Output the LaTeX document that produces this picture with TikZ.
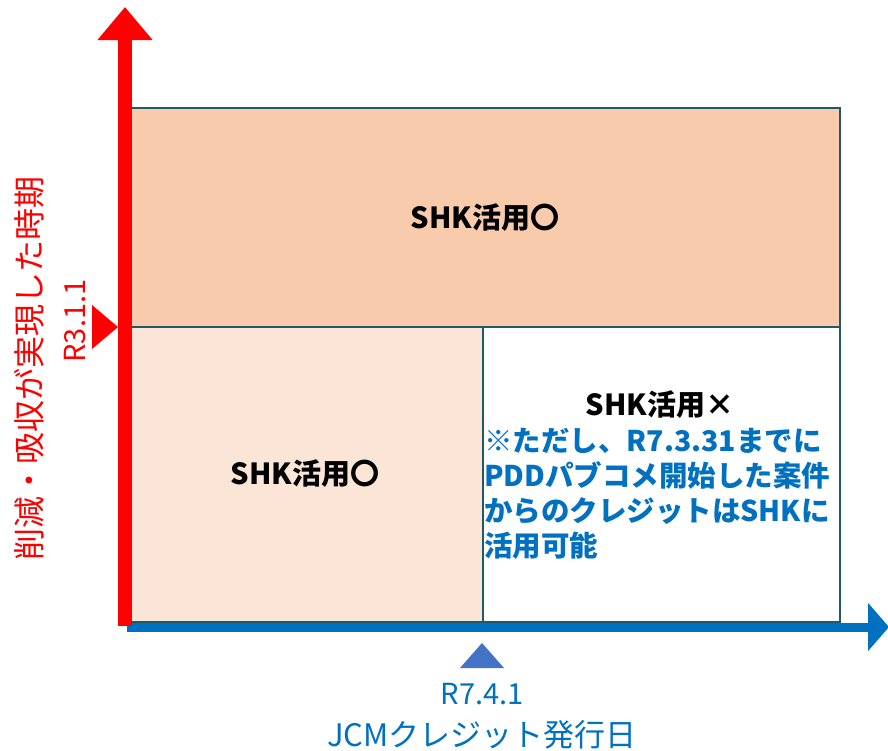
\documentclass[tikz,border=0pt]{standalone}
\usepackage{fontspec}
\setmainfont{Noto Sans CJK JP}
\usetikzlibrary{arrows.meta}
\definecolor{axred}{HTML}{FF0000}
\definecolor{axblue}{HTML}{0070C0}
\definecolor{triblue}{HTML}{4472C4}
\definecolor{edge}{HTML}{215967}
\definecolor{topfill}{HTML}{F8CBAD}
\definecolor{blfill}{HTML}{FBE5D6}
\begin{document}
\begin{tikzpicture}[x=1pt,y=-1pt,
  region/.style={draw=edge, line width=2pt, inner sep=0pt, outer sep=0pt},
  headtxt/.style={font=\fontsize{29}{35}\selectfont\bfseries, text=black, inner sep=0pt},
  notetxt/.style={font=\fontsize{28.5}{35}\selectfont\bfseries, text=axblue, align=left, inner sep=0pt},
  axlabblue/.style={font=\fontsize{29}{35}\selectfont, text=axblue, inner sep=0pt},
  axlabred/.style={font=\fontsize{30}{35}\selectfont, text=axred, inner sep=0pt, rotate=90}
]
\useasboundingbox (0,0) rectangle (888,750);
% regions
\node[region, fill=topfill, minimum width=710pt, minimum height=219pt] (top) at (485,217.5) {};
\node[region, fill=blfill, minimum width=353pt, minimum height=295pt] (bl) at (306.5,474.5) {};
\node[region, fill=white, minimum width=357pt, minimum height=295pt] (br) at (661.5,474.5) {};
\node[headtxt] (toptxt) at (485,218) {SHK活用〇};
\node[headtxt] (bltxt) at (305,474) {SHK活用〇};
\node[headtxt] (brtxt) at (660,405) {SHK活用×};
\node[notetxt, anchor=west] (note) at (484,494) {※ただし、R7.3.31までに\\PDDパブコメ開始した案件\\からのクレジットはSHKに\\活用可能};
% axes
\coordinate (xs) at (127,627);
\coordinate (xe) at (889,627);
\draw[axblue, line width=9pt, -{Triangle[width=47pt,length=21pt]}] (xs) -- (xe);
\coordinate (ys) at (125,626);
\coordinate (ye) at (125,7);
\draw[axred, line width=14pt, -{Triangle[width=53pt,length=33pt]}] (ys) -- (ye);
% markers
\coordinate (rt) at (118,327);
\fill[axred] (rt) -- ++(-26,-22) -- ++(0,44) -- cycle;
\coordinate (bt) at (482,643);
\fill[triblue] (bt) -- ++(-22,25) -- ++(44,0) -- cycle;
% axis labels
\node[axlabblue] (xd) at (482,694) {R7.4.1};
\node[axlabblue, font=\fontsize{31}{35}\selectfont] (xl) at (482,735) {JCMクレジット発行日};
\node[axlabred, font=\fontsize{29}{35}\selectfont] (yd) at (75,321) {R3.1.1};
\node[axlabred, font=\fontsize{32}{35}\selectfont] (yl) at (29,368) {削減・吸収が実現した時期};
\end{tikzpicture}
\end{document}
